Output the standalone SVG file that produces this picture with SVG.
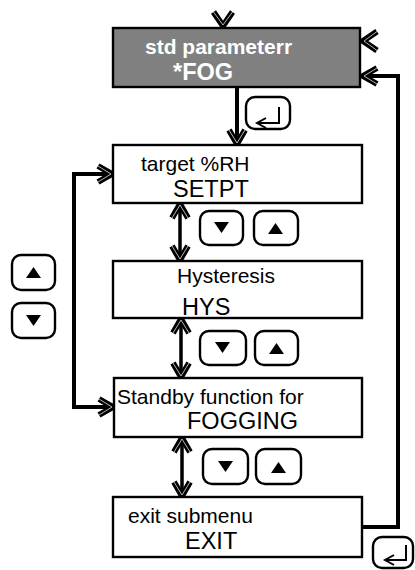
<svg xmlns="http://www.w3.org/2000/svg" width="415" height="570" viewBox="0 0 415 570">
<style>
.box{fill:#fff;stroke:#000;stroke-width:2.4}
.hdr{fill:#808080;stroke:#000;stroke-width:2.4}
.t1{font-family:"Liberation Sans",Arial,sans-serif;font-size:21px;fill:#000}
.t2{font-family:"Liberation Sans",Arial,sans-serif;font-size:23.5px;fill:#000}
.w1{font-family:"Liberation Sans",Arial,sans-serif;font-size:21px;font-weight:bold;fill:#fff}
.w2{font-family:"Liberation Sans",Arial,sans-serif;font-size:23.5px;font-weight:bold;fill:#fff}
.btn{fill:#fff;stroke:#000;stroke-width:2.4}
.tri{fill:#000}
.ent{fill:none;stroke:#000;stroke-width:2}
.ck{fill:none;stroke:#000;stroke-width:6}
.cw{fill:none;stroke:#c8c8c8;stroke-width:0.9}
.dbl{fill:none;stroke:#000;stroke-width:3.5;marker-start:url(#chev);marker-end:url(#chev)}
.one{fill:none;stroke:#000;stroke-width:4;marker-end:url(#chev)}
.two{fill:none;stroke:#000;stroke-width:4;marker-start:url(#chev);marker-end:url(#chev)}
</style>
<defs>
<marker id="chev" markerUnits="userSpaceOnUse" viewBox="-20 -12 24 24" refX="0" refY="0" markerWidth="24" markerHeight="24" orient="auto-start-reverse" overflow="visible">
<path class="ck" d="M-14,-8 L0,0 L-14,8"/>
<path class="cw" d="M-14,-8 L-1,0 L-14,8"/>
</marker>
<g id="chevShape">
<path class="ck" d="M-14,-9.5 L0,0 L-14,9.5"/>
<path class="cw" d="M-14,-9.5 L-1,0 L-14,9.5"/>
</g>
</defs>

<g id="connectors">
<use href="#chevShape" transform="translate(223,26) rotate(90)"/>
<use href="#chevShape" transform="translate(363,41) rotate(180)"/>
<path class="one" d="M237,87 V144"/>
<path class="dbl" d="M180,204 V260"/>
<path class="dbl" d="M181,319 V377"/>
<path class="dbl" d="M182,438 V496"/>
<path class="one" d="M362,527 H398 V76 H363"/>
<path class="two" d="M112,174 H74 V407 H113"/>
</g>

<g id="node-std">
<rect class="hdr" x="113" y="28" width="247" height="59"/>
<text class="w1" x="145" y="54">std parameterr</text>
<text class="w2" x="173" y="80">*FOG</text>
</g>

<g id="node-setpt">
<rect class="box" x="113" y="145" width="249" height="58"/>
<text class="t1" x="141" y="171">target %RH</text>
<text class="t2" x="173" y="197">SETPT</text>
</g>

<g id="node-hys">
<rect class="box" x="113" y="261" width="249" height="57"/>
<text class="t1" x="177" y="283">Hysteresis</text>
<text class="t2" x="182" y="315">HYS</text>
</g>

<g id="node-fogging">
<rect class="box" x="114" y="378" width="248" height="59"/>
<text class="t1" x="117" y="404">Standby function for</text>
<text class="t2" x="187" y="429">FOGGING</text>
</g>

<g id="node-exit">
<rect class="box" x="113" y="497" width="249" height="60"/>
<text class="t1" x="128" y="523">exit submenu</text>
<text class="t2" x="185" y="549">EXIT</text>
</g>

<g id="btn-enter-top">
<rect class="btn" x="246" y="97" width="44" height="32" rx="9"/>
<path class="ent" d="M279,107 V123 H258"/>
<path d="M266,118 L257,123 L266,128" fill="none" stroke="#000" stroke-width="2"/>
</g>

<g id="btn-enter-bottom">
<rect class="btn" x="373" y="537" width="40" height="31" rx="9"/>
<path class="ent" d="M406,545 V560 H386"/>
<path d="M394,555 L385,560 L394,565" fill="none" stroke="#000" stroke-width="2"/>
</g>

<g id="btn-left-up">
<rect class="btn" x="12" y="255" width="43" height="35" rx="9"/>
<polygon class="tri" points="26,278 41,278 33.5,267"/>
</g>
<g id="btn-left-down">
<rect class="btn" x="12" y="303" width="43" height="35" rx="9"/>
<polygon class="tri" points="26,315 41,315 33.5,326"/>
</g>

<g id="btn-down-1">
<rect class="btn" x="200" y="211" width="43" height="34" rx="9"/>
<polygon class="tri" points="214,222 229,222 221.5,233"/>
</g>
<g id="btn-up-1">
<rect class="btn" x="254" y="211" width="44" height="34" rx="9"/>
<polygon class="tri" points="268,234 283,234 275.5,223"/>
</g>

<g id="btn-down-2">
<rect class="btn" x="200" y="331" width="46" height="34" rx="9"/>
<polygon class="tri" points="215,342 230,342 222.5,353"/>
</g>
<g id="btn-up-2">
<rect class="btn" x="255" y="331" width="43" height="34" rx="9"/>
<polygon class="tri" points="269,354 284,354 276.5,343"/>
</g>

<g id="btn-down-3">
<rect class="btn" x="203" y="449" width="45" height="35" rx="9"/>
<polygon class="tri" points="218,461 233,461 225.5,472"/>
</g>
<g id="btn-up-3">
<rect class="btn" x="256" y="449" width="45" height="35" rx="9"/>
<polygon class="tri" points="271,473 286,473 278.5,462"/>
</g>
</svg>
